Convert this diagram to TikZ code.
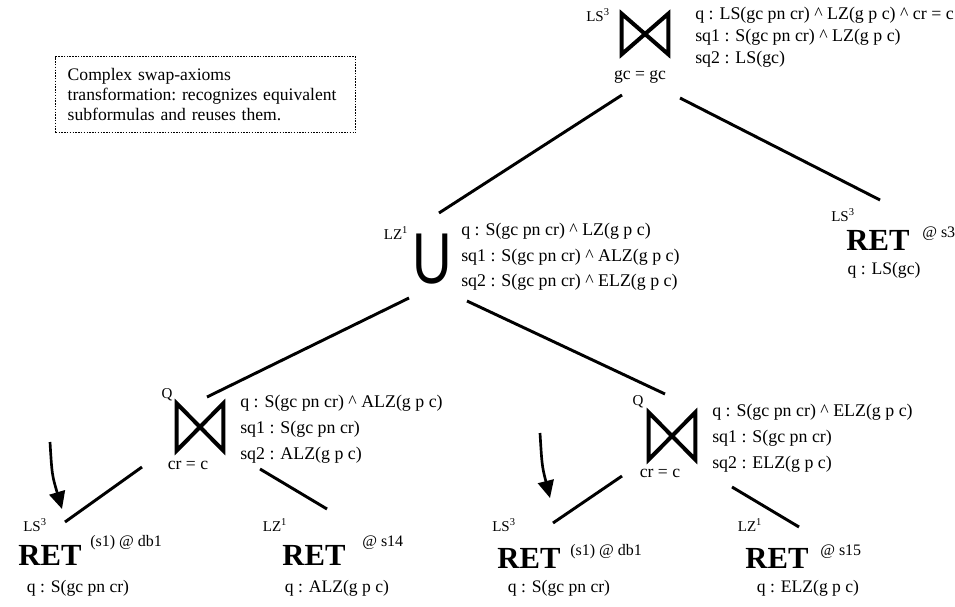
\documentclass[tikz,border=0pt]{standalone}
\usepackage{fontspec}
\setmainfont{Liberation Serif}
\setsansfont{Liberation Sans}
\usetikzlibrary{arrows.meta,positioning,calc}
\tikzset{
  info/.style={anchor=west,align=left,inner sep=0pt,font=\fontsize{13.4}{#1}\selectfont},
  txt/.style={inner sep=0pt,font=\fontsize{13.2}{15}\selectfont},
  tag/.style={inner sep=0pt,font=\fontsize{11.25}{13}\selectfont},
  site/.style={anchor=west,inner sep=0pt,font=\fontsize{12}{13}\selectfont},
  ret/.style={inner sep=0pt,font=\fontsize{23}{23}\selectfont\bfseries},
  unionop/.style={inner sep=0pt,xscale=0.76,font=\fontsize{54}{54}\selectfont\sffamily},
  joinop/.style={inner sep=0pt,minimum width=34.5pt,minimum height=#1},
  bowline/.style={line width=3pt},
  link/.style={line width=2.2pt},
  hint/.style={-{Triangle[length=13pt,width=12pt]},line width=2pt},
  note/.style={draw,densely dotted,line width=1.1pt,anchor=north west,align=left,text width=207pt,inner xsep=9pt,minimum height=57pt,font=\fontsize{13.2}{15}\selectfont\frenchspacing}
}

\begin{document}
\begin{tikzpicture}[x=0.75pt,y=-0.75pt]
    \useasboundingbox (0,0) rectangle (955,606);
    \node[note] (note) at (55,56) {Complex swap-axioms\\transformation: recognizes equivalent\\subformulas and reuses them.};
    % top join
    \node[joinop=30pt] (j0) at (645,34) {};
    \node[tag] (j0ls) at (598,15) {LS\textsuperscript{3}};
    \node[txt] (j0cond) at (640,77) {gc = gc};
    \node[info=16.5pt] (j0info) at (695,37) {q : LS(gc pn cr) \textasciicircum{} LZ(g p c) \textasciicircum{} cr = c\\sq1 : S(gc pn cr) \textasciicircum{} LZ(g p c)\\sq2 : LS(gc)};
    % union
    \node[unionop] (u) at (432,259) {U};
    \node[tag] (uls) at (396,233) {LZ\textsuperscript{1}};
    \node[info=19pt] (uinfo) at (461,257) {q : S(gc pn cr) \textasciicircum{} LZ(g p c)\\sq1 : S(gc pn cr) \textasciicircum{} ALZ(g p c)\\sq2 : S(gc pn cr) \textasciicircum{} ELZ(g p c)};
    % right retrieve
    \node[ret] (ret3) at (878,240) {RET};
    \node[tag] (ret3ls) at (843,215) {LS\textsuperscript{3}};
    \node[site] (ret3site) at (922,234) {@ s3};
    \node[txt] (ret3q) at (884,270) {q : LS(gc)};
    % lower joins
    \node[joinop=35pt] (q1) at (200,427) {};
    \node[tag] (q1lab) at (167,395) {Q};
    \node[txt] (q1cond) at (188,465) {cr = c};
    \node[info=19.5pt] (q1info) at (240,429) {q : S(gc pn cr) \textasciicircum{} ALZ(g p c)\\sq1 : S(gc pn cr)\\sq2 : ALZ(g p c)};
    \node[joinop=35pt] (q2) at (672,436) {};
    \node[tag] (q2lab) at (638,402) {Q};
    \node[txt] (q2cond) at (660,473) {cr = c};
    \node[info=19.5pt] (q2info) at (712,438) {q : S(gc pn cr) \textasciicircum{} ELZ(g p c)\\sq1 : S(gc pn cr)\\sq2 : ELZ(g p c)};
    % leaves
    \node[ret] (l1) at (50,555) {RET};
    \node[tag] (l1ls) at (35,525) {LS\textsuperscript{3}};
    \node[site] (l1site) at (90,543) {(s1) @ db1};
    \node[txt] (l1q) at (78,588) {q : S(gc pn cr)};
    \node[ret] (l2) at (314,555) {RET};
    \node[tag] (l2lz) at (275,525) {LZ\textsuperscript{1}};
    \node[site] (l2site) at (362,543) {@ s14};
    \node[txt] (l2q) at (337,588) {q : ALZ(g p c)};
    \node[ret] (l3) at (529,558) {RET};
    \node[tag] (l3ls) at (504,525) {LS\textsuperscript{3}};
    \node[site] (l3site) at (570,552) {(s1) @ db1};
    \node[txt] (l3q) at (559,588) {q : S(gc pn cr)};
    \node[ret] (l4) at (777,558) {RET};
    \node[tag] (l4lz) at (750,525) {LZ\textsuperscript{1}};
    \node[site] (l4site) at (820,552) {@ s15};
    \node[txt] (l4q) at (808,588) {q : ELZ(g p c)};
    % operators
    \draw[bowline] (j0.north west) -- (j0.south west) -- (j0.north east) -- (j0.south east) -- cycle;
    \draw[bowline] (q1.north west) -- (q1.south west) -- (q1.north east) -- (q1.south east) -- cycle;
    \draw[bowline] (q2.north west) -- (q2.south west) -- (q2.north east) -- (q2.south east) -- cycle;
    % tree edges
    \draw[link] ([shift={(-18,18)}]j0cond.center) -- ([shift={(7,-46)}]u.center);
    \draw[link] ([shift={(40,21)}]j0cond.center) -- ([shift={(37,-15)}]ret3ls.center);
    \draw[link] ([shift={(-23,39)}]u.center) -- ([shift={(7,-30)}]q1.center);
    \draw[link] ([shift={(35,42)}]u.center) -- ([shift={(-7,-42)}]q2.center);
    \draw[link] ([shift={(-46,2)}]q1cond.center) -- ([shift={(30,-3)}]l1ls.center);
    \draw[link] ([shift={(72,4)}]q1cond.center) -- ([shift={(52,-16)}]l2lz.center);
    \draw[link] ([shift={(-38,3)}]q2cond.center) -- ([shift={(49,-2)}]l3ls.center);
    \draw[link] ([shift={(72,14)}]q2cond.center) -- ([shift={(49,2)}]l4lz.center);
    % hints
    \coordinate (h1) at (50,442);
    \coordinate (h2) at (540,433);
    \draw[hint] (h1) .. controls (52,475) .. ([shift={(27,-16)}]l1ls.center);
    \draw[hint] (h2) .. controls (542,466) .. ([shift={(46,-27)}]l3ls.center);
  \end{tikzpicture}
\end{document}
